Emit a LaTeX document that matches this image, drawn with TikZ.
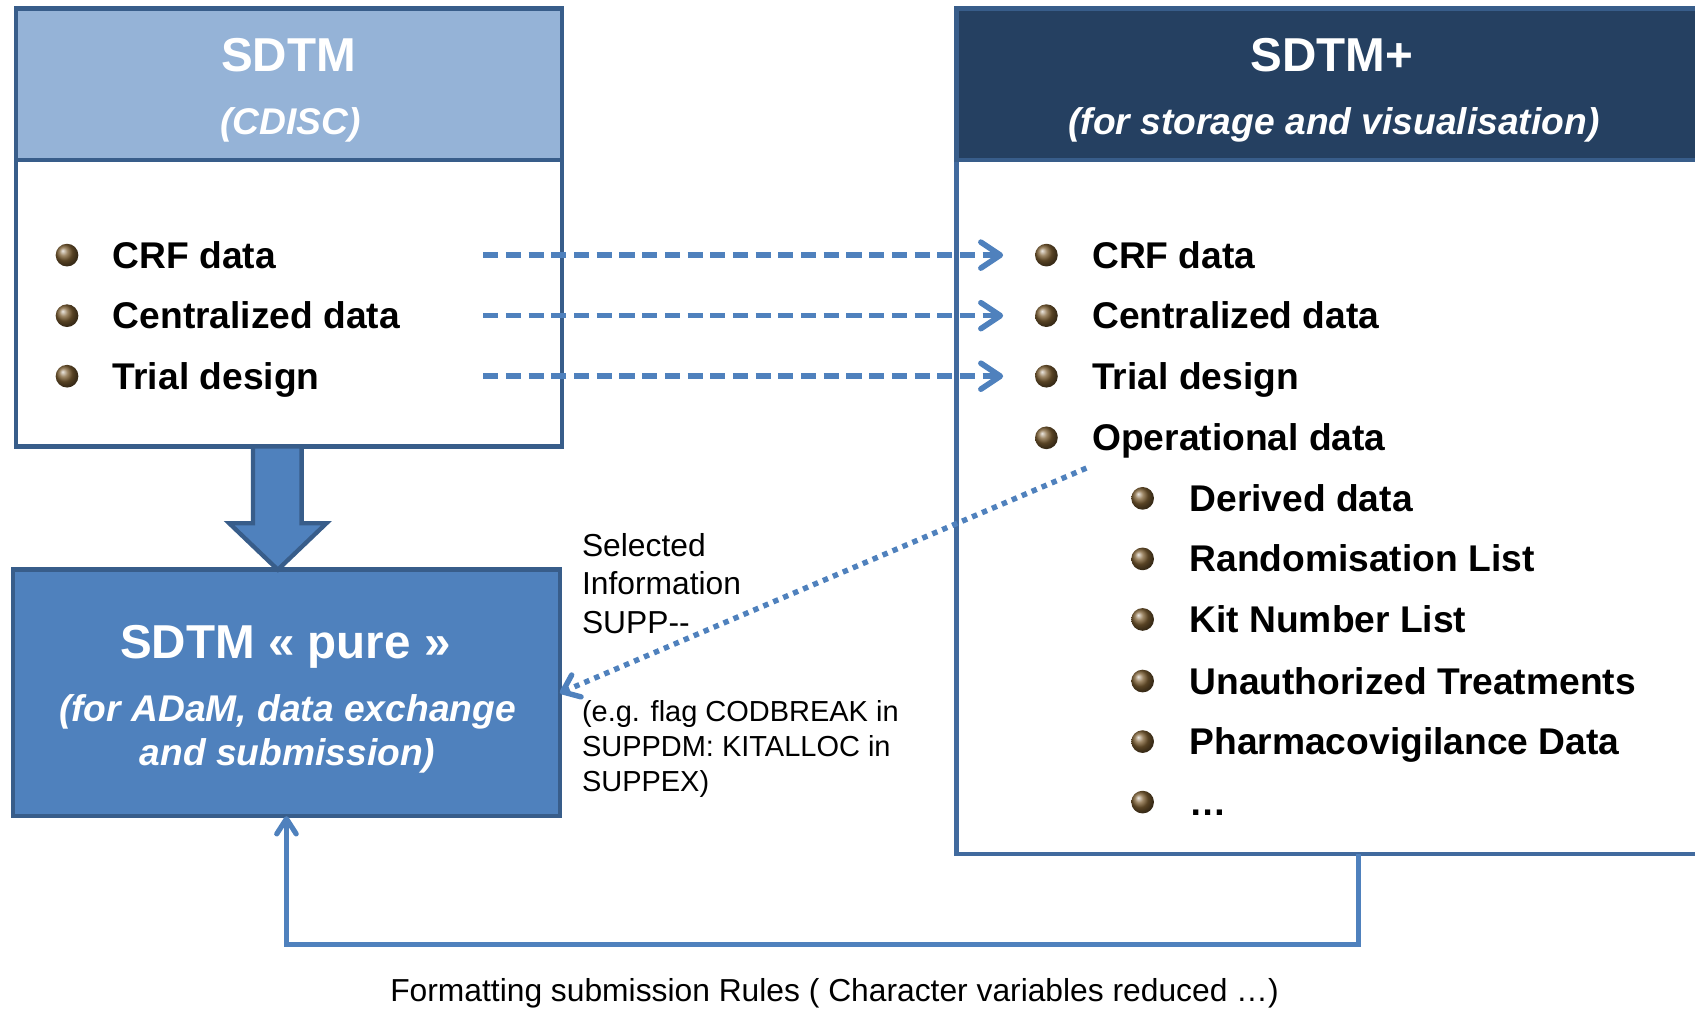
\documentclass[tikz,border=0pt]{standalone}
\usepackage{fontspec}
\setmainfont{Liberation Sans}
\usetikzlibrary{arrows.meta,calc}
\definecolor{hdrlight}{HTML}{95B3D7}
\definecolor{hdrnavy}{HTML}{254061}
\definecolor{bdr}{HTML}{385D8A}
\definecolor{bdrlight}{HTML}{416A9E}
\definecolor{midblue}{HTML}{4F81BD}
\definecolor{bullbrown}{HTML}{7D5F33}
\begin{document}
\begin{tikzpicture}[x=0.5pt,y=-0.5pt,
  box/.style={draw=bdr, line width=2.1pt, inner sep=0pt, outer sep=0pt, rectangle, anchor=north west},
  titletext/.style={text=white, font=\bfseries\fontsize{22}{26}\selectfont, anchor=base, inner sep=0pt},
  subtext/.style={text=white, font=\bfseries\itshape\fontsize{17.2}{20}\selectfont, anchor=base, inner sep=0pt},
  itemtext/.style={font=\bfseries\fontsize{17.2}{20}\selectfont, anchor=base west, inner sep=0pt},
  notetext/.style={font=\fontsize{14.7}{17}\selectfont, anchor=base west, inner sep=0pt},
  smallnote/.style={font=\fontsize{13.4}{16}\selectfont, anchor=base west, inner sep=0pt},
  ballbullet/.style={circle, minimum size=10.5pt, inner sep=0pt, shade, ball color=bullbrown},
  dasharrow/.style={draw=midblue, line width=2.6pt, dash pattern=on 7pt off 3.5pt, -{Straight Barb[length=9pt,width=12pt,round]}},
  dotarrow/.style={draw=midblue, line width=2.5pt, dash pattern=on 2.5pt off 2.5pt, -{Straight Barb[length=7pt,width=11pt,round]}},
  fbarrow/.style={draw=midblue, line width=2.4pt, -{Straight Barb[length=7pt,width=9pt,round]}}
]
\useasboundingbox (0,0) rectangle (1568,933.4);
\clip (0,0) rectangle (1568,933.4);

% left box SDTM
\node[box, fill=white, minimum width=252.5pt, minimum height=202.5pt] (sdtm) at (15,8) {};
\node[box, fill=hdrlight, minimum width=252.5pt, minimum height=70pt] (sdtmhead) at (15,8) {};
\node[titletext] (sdtmtitle) at (267,66) {SDTM};
\node[subtext] (sdtmsub) at (269,124) {(CDISC)};

% right box SDTM+
\node[box, draw=bdrlight, fill=white, minimum width=357.5pt, minimum height=391pt] (plus) at (885,8) {};
\node[box, fill=hdrnavy, minimum width=357.5pt, minimum height=70pt] (plushead) at (885,8) {};
\node[titletext] (plustitle) at (1232,66) {SDTM+};
\node[subtext] (plussub) at (1234,124) {(for storage and visualisation)};

% pure box
\node[box, fill=midblue, minimum width=253pt, minimum height=114pt] (pure) at (12,527) {};
\node[titletext] (puretitle) at (264,609) {SDTM « pure »};
\node[subtext] (puresub1) at (266,667) {(for ADaM, data exchange};
\node[subtext] (puresub2) at (266,708) {and submission)};

% block arrow
\draw[fill=midblue, draw=bdr, line width=2pt, line join=miter]
  (234,413) -- (279,413) -- (279,484) -- (302,484) -- (257,527) -- (212,484) -- (234,484) -- cycle;

% left items
\node[ballbullet] (lb1) at (62,236) {};
\node[ballbullet] (lb2) at (62,292) {};
\node[ballbullet] (lb3) at (62,348) {};
\node[itemtext] (li1) at (104,248) {CRF data};
\node[itemtext] (li2) at (104,304) {Centralized data};
\node[itemtext] (li3) at (104,360) {Trial design};

% right items
\node[ballbullet] (rb1) at (968,236) {};
\node[ballbullet] (rb2) at (968,292) {};
\node[ballbullet] (rb3) at (968,348) {};
\node[ballbullet] (rb4) at (968,405) {};
\node[itemtext] (ri1) at (1010,248) {CRF data};
\node[itemtext] (ri2) at (1010,304) {Centralized data};
\node[itemtext] (ri3) at (1010,360) {Trial design};
\node[itemtext] (ri4) at (1010,417) {Operational data};

\node[ballbullet] (sb1) at (1057,461) {};
\node[ballbullet] (sb2) at (1057,517) {};
\node[ballbullet] (sb3) at (1057,573) {};
\node[ballbullet] (sb4) at (1057,630) {};
\node[ballbullet] (sb5) at (1057,686) {};
\node[ballbullet] (sb6) at (1057,742) {};
\node[itemtext] (si1) at (1100,473) {Derived data};
\node[itemtext] (si2) at (1100,529) {Randomisation List};
\node[itemtext] (si3) at (1100,585) {Kit Number List};
\node[itemtext] (si4) at (1100,642) {Unauthorized Treatments};
\node[itemtext] (si5) at (1100,698) {Pharmacovigilance Data};
\node[itemtext] (si6) at (1100,754) {…};

% dashed arrows
\coordinate (dl1) at (447,236);
\coordinate (dl2) at (447,292);
\coordinate (dl3) at (447,348);
\coordinate (dr1) at (928,236);
\coordinate (dr2) at (928,292);
\coordinate (dr3) at (928,348);
\draw[dasharrow] (dl1) -- (dr1);
\draw[dasharrow] (dl2) -- (dr2);
\draw[dasharrow] (dl3) -- (dr3);

% dotted arrow
\coordinate (opstart) at (1005,433);
\draw[dotarrow] (opstart) -- (pure.east);

% notes
\node[notetext] (n1) at (538,515) {Selected};
\node[notetext] (n2) at (538,550) {Information};
\node[notetext] (n3) at (538,586) {SUPP-{}-};
\node[smallnote] (n4) at (538,667) {(e.g. flag CODBREAK in};
\node[smallnote] (n5) at (538,700) {SUPPDM: KITALLOC in};
\node[smallnote] (n6) at (538,732) {SUPPEX)};

% feedback arrow
\coordinate (fbstart) at (1257,790);
\draw[fbarrow] (fbstart) -- ++(0,84) -| (pure.south);
\node[notetext, anchor=base] (fblabel) at (772,926) {Formatting submission Rules ( Character variables reduced …)};
\end{tikzpicture}
\end{document}
